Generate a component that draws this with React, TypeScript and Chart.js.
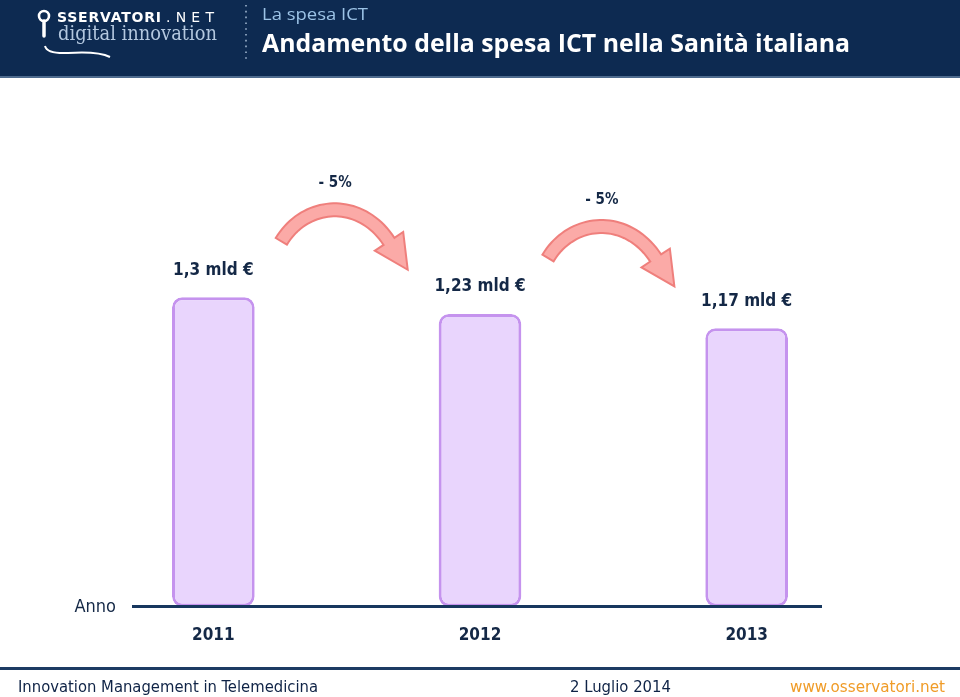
import React, { useEffect, useRef } from "react";
import { Chart, registerables } from "chart.js";

Chart.register(...registerables);

// ---- data ----
const years: string[] = ["2011", "2012", "2013"];
const spending: number[] = [1.3, 1.23, 1.17];
const changeLabels: string[] = ["- 5%", "- 5%"];
const axisTitle = "Anno";
const unitSuffix = " mld €";

const FONT = "'DejaVu Sans Condensed', 'DejaVu Sans', sans-serif";
const NAVY = "#142846";

function fmt(v: number): string {
  return String(v).replace(".", ",") + unitSuffix;
}

function drawArrow(ctx: CanvasRenderingContext2D, x0: number, y0: number, x3: number, y3: number) {
  const p0 = { x: x0, y: y0 };
  const p1 = { x: x0 + 24, y: y0 - 40 };
  const p2 = { x: x3 - 29, y: y3 - 44 };
  const p3 = { x: x3, y: y3 };
  const half = 6.5;
  const N = 40;
  const A: { x: number; y: number }[] = [];
  const B: { x: number; y: number }[] = [];
  let lastD = { x: 0, y: 1 };
  for (let i = 0; i <= N; i++) {
    const t = i / N;
    const mt = 1 - t;
    const x = mt * mt * mt * p0.x + 3 * mt * mt * t * p1.x + 3 * mt * t * t * p2.x + t * t * t * p3.x;
    const y = mt * mt * mt * p0.y + 3 * mt * mt * t * p1.y + 3 * mt * t * t * p2.y + t * t * t * p3.y;
    const dx = 3 * mt * mt * (p1.x - p0.x) + 6 * mt * t * (p2.x - p1.x) + 3 * t * t * (p3.x - p2.x);
    const dy = 3 * mt * mt * (p1.y - p0.y) + 6 * mt * t * (p2.y - p1.y) + 3 * t * t * (p3.y - p2.y);
    const len = Math.hypot(dx, dy) || 1;
    const d = { x: dx / len, y: dy / len };
    lastD = d;
    const n = { x: -d.y, y: d.x };
    A.push({ x: x + n.x * half, y: y + n.y * half });
    B.push({ x: x - n.x * half, y: y - n.y * half });
  }
  const n = { x: -lastD.y, y: lastD.x };
  const hw = 17;
  const hl = 34;
  ctx.save();
  ctx.beginPath();
  ctx.moveTo(A[0].x, A[0].y);
  for (const p of A) ctx.lineTo(p.x, p.y);
  ctx.lineTo(p3.x + n.x * hw, p3.y + n.y * hw);
  ctx.lineTo(p3.x + lastD.x * hl, p3.y + lastD.y * hl);
  ctx.lineTo(p3.x - n.x * hw, p3.y - n.y * hw);
  for (let i = B.length - 1; i >= 0; i--) ctx.lineTo(B[i].x, B[i].y);
  ctx.closePath();
  ctx.fillStyle = "#FBAAA7";
  ctx.fill();
  ctx.lineWidth = 2;
  ctx.lineJoin = "miter";
  ctx.strokeStyle = "#EF7F7C";
  ctx.stroke();
  ctx.restore();
}

const annotationPlugin = {
  id: "annotations",
  afterDatasetsDraw(chart: any) {
    const ctx: CanvasRenderingContext2D = chart.ctx;
    const meta = chart.getDatasetMeta(0);
    const bars = meta.data;
    const area = chart.chartArea;
    const y0 = chart.scales.y.getPixelForValue(0);

    // baseline
    ctx.save();
    ctx.beginPath();
    ctx.moveTo(area.left + 52, y0);
    ctx.lineTo(area.right - 58, y0);
    ctx.lineWidth = 3;
    ctx.strokeStyle = "#17375E";
    ctx.stroke();

    // axis title
    ctx.fillStyle = NAVY;
    ctx.font = `18px ${FONT}`;
    ctx.textAlign = "right";
    ctx.textBaseline = "middle";
    ctx.fillText(axisTitle, area.left + 36, y0 + 1);

    // value labels
    ctx.font = `bold 17px ${FONT}`;
    ctx.textAlign = "center";
    bars.forEach((bar: any, i: number) => {
      ctx.fillText(fmt(spending[i]), bar.x, bar.y - 27);
    });

    // change arrows
    for (let i = 0; i < changeLabels.length; i++) {
      const a = bars[i];
      const b = bars[i + 1];
      if (!a || !b) continue;
      const sx = a.x + 68;
      const ex = b.x - 91;
      const yy = a.y - 56;
      drawArrow(ctx, sx, yy, ex, yy);
      ctx.fillStyle = NAVY;
      ctx.font = `bold 15px ${FONT}`;
      ctx.textAlign = "center";
      ctx.textBaseline = "middle";
      ctx.fillText(changeLabels[i], (sx + ex) / 2, yy - 58);
    }
    ctx.restore();
  },
};

function ChartCanvas() {
  const ref = useRef<HTMLCanvasElement | null>(null);
  useEffect(() => {
    if (!ref.current) return;
    const chart = new Chart(ref.current, {
      type: "bar",
      data: {
        labels: years,
        datasets: [
          {
            data: spending,
            backgroundColor: "#E9D5FD",
            borderColor: "#C593EE",
            borderWidth: 3,
            borderRadius: 10,
            borderSkipped: false,
            categoryPercentage: 1,
            barPercentage: 0.31,
          },
        ],
      },
      options: {
        responsive: false,
        animation: false,
        layout: { padding: { left: 80, right: 80, top: 226, bottom: 32 } },
        plugins: { legend: { display: false }, tooltip: { enabled: false } },
        scales: {
          x: {
            grid: { display: false, drawTicks: false },
            border: { display: false },
            ticks: {
              padding: 19,
              color: NAVY,
              font: { family: FONT, size: 17, weight: "bold" },
            },
          },
          y: { display: false, min: 0, max: 1.6 },
        },
      },
      plugins: [annotationPlugin],
    } as any);
    return () => chart.destroy();
  }, []);
  return (
    <canvas
      ref={ref}
      width={960}
      height={697}
      style={{ position: "absolute", left: 0, top: 0, width: 960, height: 697 }}
    />
  );
}

export default function App() {
  return (
    <div
      style={{
        position: "fixed",
        left: 0,
        top: 0,
        width: 960,
        height: 697,
        background: "#ffffff",
        overflow: "hidden",
      }}
    >
      <ChartCanvas />
      <svg
        width={960}
        height={697}
        style={{ position: "absolute", left: 0, top: 0, pointerEvents: "none" }}
      >
        {/* header */}
        <rect x={0} y={0} width={960} height={77} fill="#0D2A51" />
        <rect x={0} y={76} width={960} height={2} fill="#4E6B8E" />
        {/* pin */}
        <circle cx={44} cy={16} r={5} fill="none" stroke="#ffffff" strokeWidth={2.6} />
        <line x1={44} y1={21} x2={44} y2={36} stroke="#ffffff" strokeWidth={3.5} strokeLinecap="round" />
        <path d="M45 46 Q 47 54 68 53 Q 98 51 110 57" fill="none" stroke="#ffffff" strokeWidth={2} />
        <text
          x={57}
          y={22}
          fill="#ffffff"
          fontFamily="'DejaVu Sans', sans-serif"
          fontWeight="bold"
          fontSize={14}
          textLength={104}
          lengthAdjust="spacing"
        >
          SSERVATORI
        </text>
        <text
          x={166}
          y={22}
          fill="#ffffff"
          fontFamily="'DejaVu Sans', sans-serif"
          fontSize={14}
          textLength={48}
          lengthAdjust="spacing"
        >
          .NET
        </text>
        <text
          x={58}
          y={40}
          fill="#B4C8DF"
          fontFamily="'DejaVu Serif', serif"
          fontSize={20}
          textLength={159}
          lengthAdjust="spacingAndGlyphs"
        >
          digital innovation
        </text>
        <line x1={246} y1={5} x2={246} y2={60} stroke="#8DA4BF" strokeWidth={1.8} strokeDasharray="1.6 4.2" />
        <text
          x={262}
          y={20}
          fill="#9CC3E6"
          fontFamily="'Open Sans', sans-serif"
          fontSize={17}
          textLength={106}
          lengthAdjust="spacingAndGlyphs"
        >
          La spesa ICT
        </text>
        <text
          x={262}
          y={52}
          fill="#ffffff"
          fontFamily="'Open Sans', sans-serif"
          fontWeight="bold"
          fontSize={25}
          textLength={588}
          lengthAdjust="spacingAndGlyphs"
        >
          Andamento della spesa ICT nella Sanità italiana
        </text>
        {/* footer */}
        <rect x={0} y={667} width={960} height={3} fill="#1D3B63" />
        <text
          x={18}
          y={692}
          fill="#0F2346"
          fontFamily="'DejaVu Sans Condensed', 'DejaVu Sans', sans-serif"
          fontSize={15}
          textLength={300}
          lengthAdjust="spacingAndGlyphs"
        >
          Innovation Management in Telemedicina
        </text>
        <text
          x={570}
          y={692}
          fill="#0F2346"
          fontFamily="'DejaVu Sans Condensed', 'DejaVu Sans', sans-serif"
          fontSize={15}
          textLength={101}
          lengthAdjust="spacingAndGlyphs"
        >
          2 Luglio 2014
        </text>
        <text
          x={790}
          y={692}
          fill="#F09C28"
          fontFamily="'DejaVu Sans Condensed', 'DejaVu Sans', sans-serif"
          fontSize={15}
          textLength={155}
          lengthAdjust="spacingAndGlyphs"
        >
          www.osservatori.net
        </text>
      </svg>
    </div>
  );
}
